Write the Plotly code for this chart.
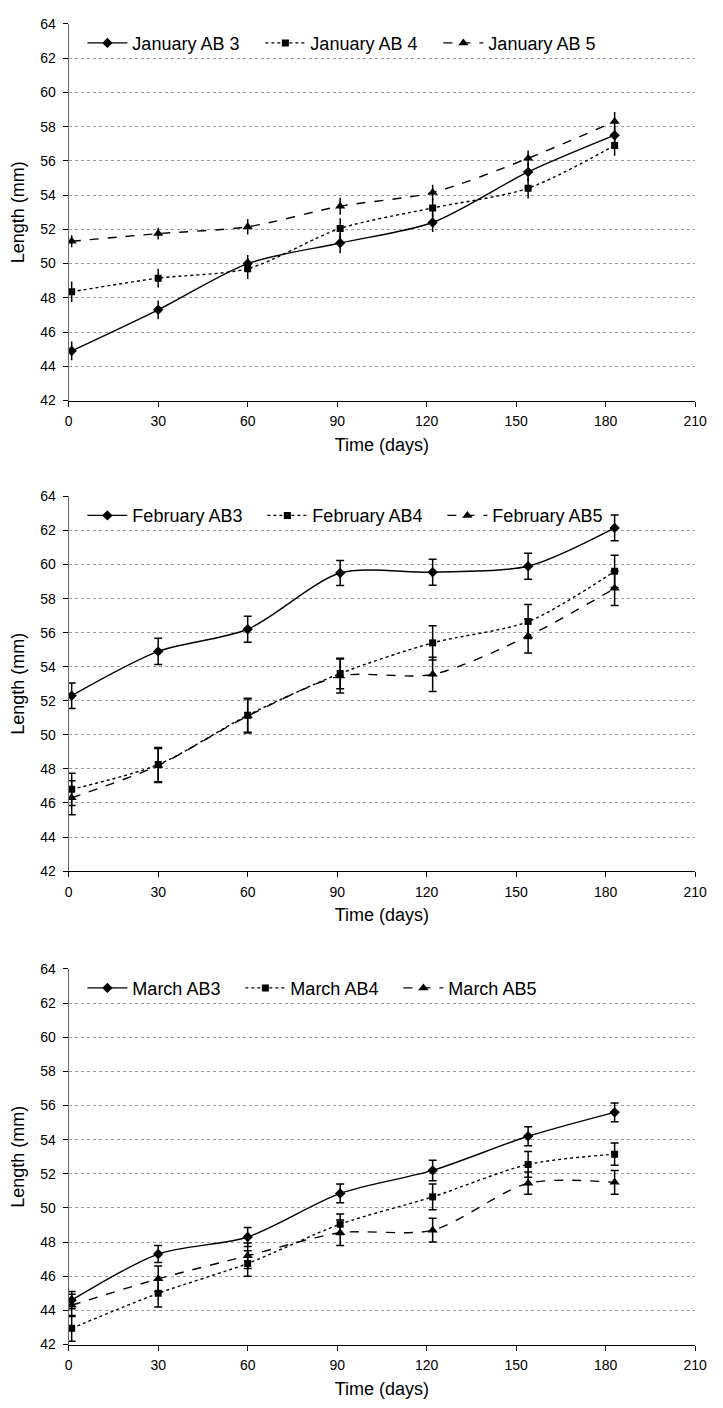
import plotly.graph_objects as go

# ---- data ----
days = [1, 30, 60, 91, 122, 154, 183]

jan_ab3 = [44.9, 47.3, 50.0, 51.2, 52.4, 55.35, 57.5]
jan_ab4 = [48.35, 49.15, 49.7, 52.05, 53.25, 54.4, 56.9]
jan_ab5 = [51.3, 51.75, 52.15, 53.35, 54.15, 56.15, 58.3]
jan_ab3_err = [0.55, 0.55, 0.5, 0.6, 0.55, 0.55, 0.5]
jan_ab4_err = [0.6, 0.55, 0.6, 0.6, 0.55, 0.6, 0.6]
jan_ab5_err = [0.35, 0.35, 0.45, 0.5, 0.45, 0.45, 0.55]

feb_ab3 = [52.3, 54.9, 56.2, 59.5, 59.55, 59.9, 62.15]
feb_ab4 = [46.8, 48.25, 51.15, 53.6, 55.4, 56.65, 59.6]
feb_ab5 = [46.3, 48.2, 51.1, 53.45, 53.55, 55.8, 58.6]
feb_ab3_err = [0.75, 0.77, 0.77, 0.73, 0.76, 0.76, 0.76]
feb_ab4_err = [0.95, 1.0, 1.0, 0.9, 1.0, 1.0, 0.95]
feb_ab5_err = [1.0, 1.0, 1.0, 1.0, 1.0, 1.0, 1.0]

mar_ab3 = [44.6, 47.3, 48.3, 50.85, 52.2, 54.2, 55.6]
mar_ab4 = [42.95, 45.0, 46.75, 49.05, 50.65, 52.55, 53.15]
mar_ab5 = [44.3, 45.85, 47.2, 48.55, 48.7, 51.45, 51.5]
mar_ab3_err = [0.5, 0.5, 0.55, 0.55, 0.6, 0.55, 0.55]
mar_ab4_err = [0.75, 0.8, 0.75, 0.6, 0.75, 0.75, 0.65]
mar_ab5_err = [0.65, 0.75, 0.75, 0.75, 0.7, 0.65, 0.7]

panels = [
    ("January", ["January AB 3", "January AB 4", "January AB 5"],
     [jan_ab3, jan_ab4, jan_ab5], [jan_ab3_err, jan_ab4_err, jan_ab5_err], 0),
    ("February", ["February AB3", "February AB4", "February AB5"],
     [feb_ab3, feb_ab4, feb_ab5], [feb_ab3_err, feb_ab4_err, feb_ab5_err], 4),
    ("March", ["March AB3", "March AB4", "March AB5"],
     [mar_ab3, mar_ab4, mar_ab5], [mar_ab3_err, mar_ab4_err, mar_ab5_err], 4),
]

x_ticks = [0, 30, 60, 90, 120, 150, 180, 210]
y_ticks = [42, 44, 46, 48, 50, 52, 54, 56, 58, 60, 62, 64]

# the page body adds an 8px margin, so the figure is 16px smaller than the window
W, H = 707, 1392
font_main = "Liberation Sans, Arial"

styles = [
    dict(dash="solid", symbol="diamond", size=8),
    dict(dash="dot", symbol="square", size=7),
    dict(dash="dash", symbol="triangle-up", size=9),
]

# plot-area geometry in figure pixels (top, bottom)
x_left, x_right = 58, 699
boxes = [(8, 389), (486, 865), (964, 1344)]
legend_y = [27.5, 505.5, 983.5]
entry_w = [123, 125, 103]

fig = go.Figure()
layout = dict(
    width=W, height=H, margin=dict(l=0, r=0, t=0, b=0),
    paper_bgcolor="white", plot_bgcolor="white", showlegend=True,
    font=dict(family=font_main, color="black"),
)

for i, (month, names, series, errs, capw) in enumerate(panels):
    sfx = "" if i == 0 else str(i + 1)
    leg = "legend" if i == 0 else f"legend{i + 1}"
    for name, ys, es, st in zip(names, series, errs, styles):
        fig.add_trace(go.Scatter(
            x=days, y=ys, name=name, mode="lines+markers",
            xaxis="x" + sfx, yaxis="y" + sfx, legend=leg,
            line=dict(color="black", width=1.4, dash=st["dash"], shape="spline", smoothing=0.8),
            marker=dict(symbol=st["symbol"], size=st["size"], color="black"),
            error_y=dict(type="data", array=es, visible=True, color="black",
                         thickness=1.5, width=capw),
        ))
    top, bot = boxes[i]
    layout["xaxis" + sfx] = dict(
        domain=[x_left / W, x_right / W], anchor="y" + sfx,
        range=[-0.001, 210.001], tickvals=x_ticks, ticktext=[str(t) for t in x_ticks],
        showgrid=False, zeroline=False, showline=True, linecolor="black", linewidth=1.2,
        ticks="outside", ticklen=5, tickcolor="black", ticklabelstandoff=3,
        ticklabeloverflow="allow",
        tickfont=dict(size=14),
        title=dict(text="Time (days)", font=dict(size=18), standoff=9),
    )
    layout["yaxis" + sfx] = dict(
        domain=[1 - bot / H, 1 - top / H], anchor="x" + sfx,
        range=[42, 64], tickvals=y_ticks, ticktext=[str(t) for t in y_ticks],
        showgrid=True, gridcolor="#9a9a9a", griddash="dot", gridwidth=1,
        zeroline=False, showline=True, linecolor="#666", linewidth=1.2,
        ticks="outside", ticklen=5, tickcolor="black", ticklabelstandoff=4,
        tickfont=dict(size=14),
        title=dict(text="Length (mm)", font=dict(size=18), standoff=11),
    )
    layout[leg] = dict(
        orientation="h", x=72 / W, y=1 - legend_y[i] / H, xanchor="left", yanchor="middle",
        bgcolor="rgba(0,0,0,0)", font=dict(size=18),
        entrywidth=entry_w[i], entrywidthmode="pixels", itemwidth=40,
        tracegroupgap=0,
    )

fig.update_layout(**layout)
fig.write_html("out.html")
